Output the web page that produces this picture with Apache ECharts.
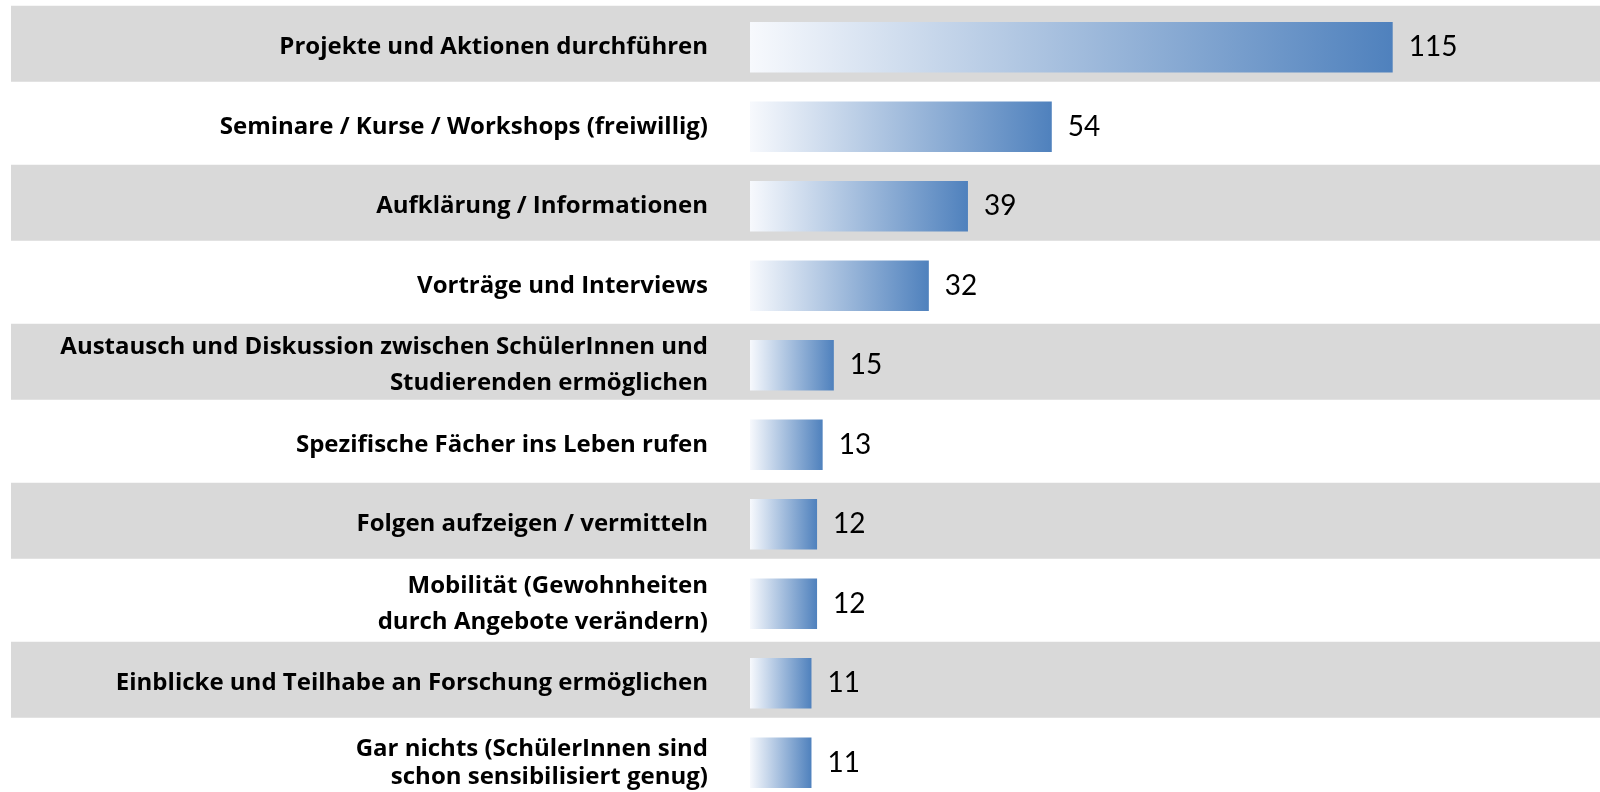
<!DOCTYPE html>
<html>
<head>
<meta charset="utf-8">
<script src="https://cdn.jsdelivr.net/npm/echarts@6/dist/echarts.min.js"></script>
<style>
  html, body { margin: 0; padding: 0; background: #fff; }
  #chart { width: 1600px; height: 792px; }
</style>
</head>
<body>
<div id="chart"></div>
<script>
const categories = [
  'Projekte und Aktionen durchführen',
  'Seminare / Kurse / Workshops (freiwillig)',
  'Aufklärung / Informationen',
  'Vorträge und Interviews',
  'Austausch und Diskussion zwischen SchülerInnen und\nStudierenden ermöglichen',
  'Spezifische Fächer ins Leben rufen',
  'Folgen aufzeigen / vermitteln',
  'Mobilität (Gewohnheiten\ndurch Angebote verändern)',
  'Einblicke und Teilhabe an Forschung ermöglichen',
  'Gar nichts (SchülerInnen sind\nschon sensibilisiert genug)'
];
const values = [115, 54, 39, 32, 15, 13, 12, 12, 11, 11];
// alternating grey row stripes (1 = stripe)
const stripes = [1, 0, 1, 0, 1, 0, 1, 0, 1, 0];

const labelFont = '"Open Sans", Lato, sans-serif';
const valueFont = 'Lato, "Open Sans", sans-serif';

function makeChart() {
  const chart = echarts.init(document.getElementById('chart'));
  const last = categories.length - 1;

  const option = {
    animation: false,
    grid: [
      { left: 750, right: 11.7, top: 7.5, height: 795, outerBoundsMode: 'none' },
      { left: 11, right: 0, top: 4, height: 795, outerBoundsMode: 'none' }
    ],
    xAxis: [
      { gridIndex: 0, type: 'value', min: 0, max: 150, show: false },
      { gridIndex: 1, type: 'value', min: 0, max: 1, show: false }
    ],
    yAxis: [
      {
        gridIndex: 0,
        type: 'category',
        inverse: true,
        data: categories,
        z: 5,
        axisLine: { show: false },
        axisTick: { show: false },
        axisLabel: {
          margin: 42,
          color: '#000',
          fontFamily: labelFont,
          fontWeight: 'bold',
          fontSize: 24,
          lineHeight: 36,
          align: 'right',
          formatter: function (v, i) {
            if (i === last) {
              return v.split('\n').map(s => '{t|' + s + '}').join('\n');
            }
            return v;
          },
          rich: {
            t: {
              color: '#000',
              fontFamily: labelFont,
              fontWeight: 'bold',
              fontSize: 24,
              lineHeight: 28
            }
          }
        }
      },
      {
        gridIndex: 1,
        type: 'category',
        inverse: true,
        data: categories,
        show: false
      }
    ],
    series: [
      {
        type: 'bar',
        xAxisIndex: 1,
        yAxisIndex: 1,
        silent: true,
        z: 0,
        barWidth: 76,
        itemStyle: { color: '#d9d9d9' },
        data: stripes.map(s => (s ? 1 : '-'))
      },
      {
        type: 'bar',
        xAxisIndex: 0,
        yAxisIndex: 0,
        z: 3,
        barWidth: 50.7,
        itemStyle: {
          color: new echarts.graphic.LinearGradient(0, 0, 1, 0, [
            { offset: 0, color: '#f7f9fd' },
            { offset: 1, color: '#4f81bd' }
          ])
        },
        label: {
          show: true,
          position: 'right',
          distance: 16,
          color: '#000',
          fontFamily: valueFont,
          fontSize: 28
        },
        data: values
      }
    ]
  };

  chart.setOption(option);
  window.addEventListener('resize', () => chart.resize());
}

makeChart();
</script>
</body>
</html>
